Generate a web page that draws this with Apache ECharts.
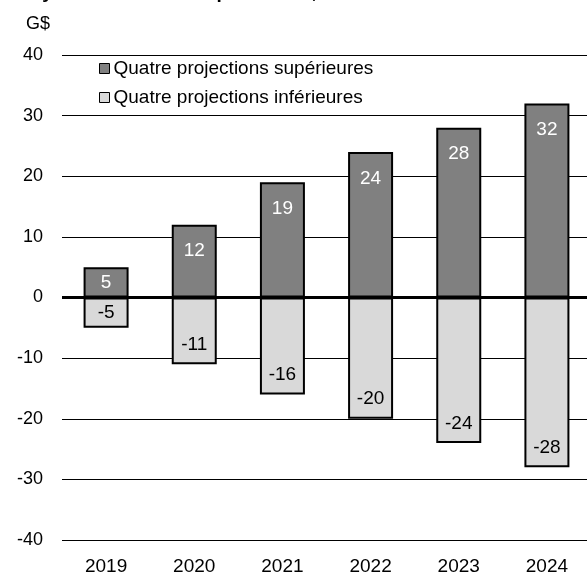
<!DOCTYPE html>
<html lang="fr">
<head>
    <meta charset="UTF-8">
    <title>Projections</title>
    <script src="https://cdn.jsdelivr.net/npm/echarts@6/dist/echarts.min.js"></script>
    <style>
    html, body { padding: 0; margin: 0; width: 100%; height: 100%; background: #fff; }
    #chart { width: 587px; height: 574px; }
    </style>
</head>
<body>
    <div id="chart"></div>
    <script type="text/javascript">
        // donnees
        var annees = ['2019', '2020', '2021', '2022', '2023', '2024'];
        var superieures = [5, 12, 19, 24, 28, 32];
        var inferieures = [-5, -11, -16, -20, -24, -28];
        var nomSup = 'Quatre projections supérieures';
        var nomInf = 'Quatre projections inférieures';
        var titre = 'Analyse des écarts des prévisions,';

        var police = '"Liberation Sans", Arial, sans-serif';
        var chart = echarts.init(document.getElementById('chart'));

        // petites barres : etiquette au centre
        function points(vals, pos, dist) {
            return vals.map(function (v) {
                if (Math.abs(v) < 8) {
                    return { value: v, label: { position: 'inside' } };
                }
                return { value: v, label: { position: pos, distance: dist } };
            });
        }

        var option = {
            animation: false,
            textStyle: { fontFamily: police },
            graphic: [{
                type: 'text', left: 1, top: -17,
                style: { text: titre, font: 'bold 19px ' + police, fill: '#000' }
            }],
            grid: { left: 62, right: -4, top: 55, bottom: 34, containLabel: false, outerBoundsMode: 'none' },
            legend: {
                orient: 'vertical', left: 99, top: 59, padding: 0,
                itemWidth: 10, itemHeight: 10, itemGap: 10,
                icon: 'rect',
                itemStyle: { borderColor: '#000', borderWidth: 1 },
                textStyle: { fontSize: 19, color: '#000', padding: [0, 0, 0, -1] },
                data: [nomSup, nomInf]
            },
            xAxis: {
                type: 'category', data: annees,
                axisLine: { show: false }, axisTick: { show: false },
                axisLabel: { fontSize: 19, color: '#000', margin: 17 }
            },
            yAxis: {
                type: 'value', min: -40, max: 40, interval: 10,
                name: 'G$', nameLocation: 'end', nameGap: 31,
                nameTextStyle: { fontSize: 18, color: '#000', align: 'right', verticalAlign: 'middle', padding: [0, 12, 0, 0] },
                axisLine: { show: false }, axisTick: { show: false },
                axisLabel: { fontSize: 18, color: '#000', margin: 19 },
                splitLine: { lineStyle: { color: '#000', width: 1.2 } }
            },
            series: [{
                name: nomSup, type: 'bar', barWidth: 45, barGap: '-100%',
                data: points(superieures, 'insideTop', 17),
                itemStyle: { color: '#808080', borderColor: '#000', borderWidth: 2 },
                label: { show: true, color: '#fff', fontSize: 19 },
                markLine: {
                    silent: true, symbol: 'none', label: { show: false },
                    lineStyle: { color: '#000', width: 3, type: 'solid' },
                    data: [{ yAxis: 0 }]
                }
            }, {
                name: nomInf, type: 'bar', barWidth: 45,
                data: points(inferieures, 'insideBottom', 10),
                itemStyle: { color: '#d9d9d9', borderColor: '#000', borderWidth: 2 },
                label: { show: true, color: '#000', fontSize: 19 }
            }]
        };
        chart.setOption(option);
    </script>
</body>
</html>
